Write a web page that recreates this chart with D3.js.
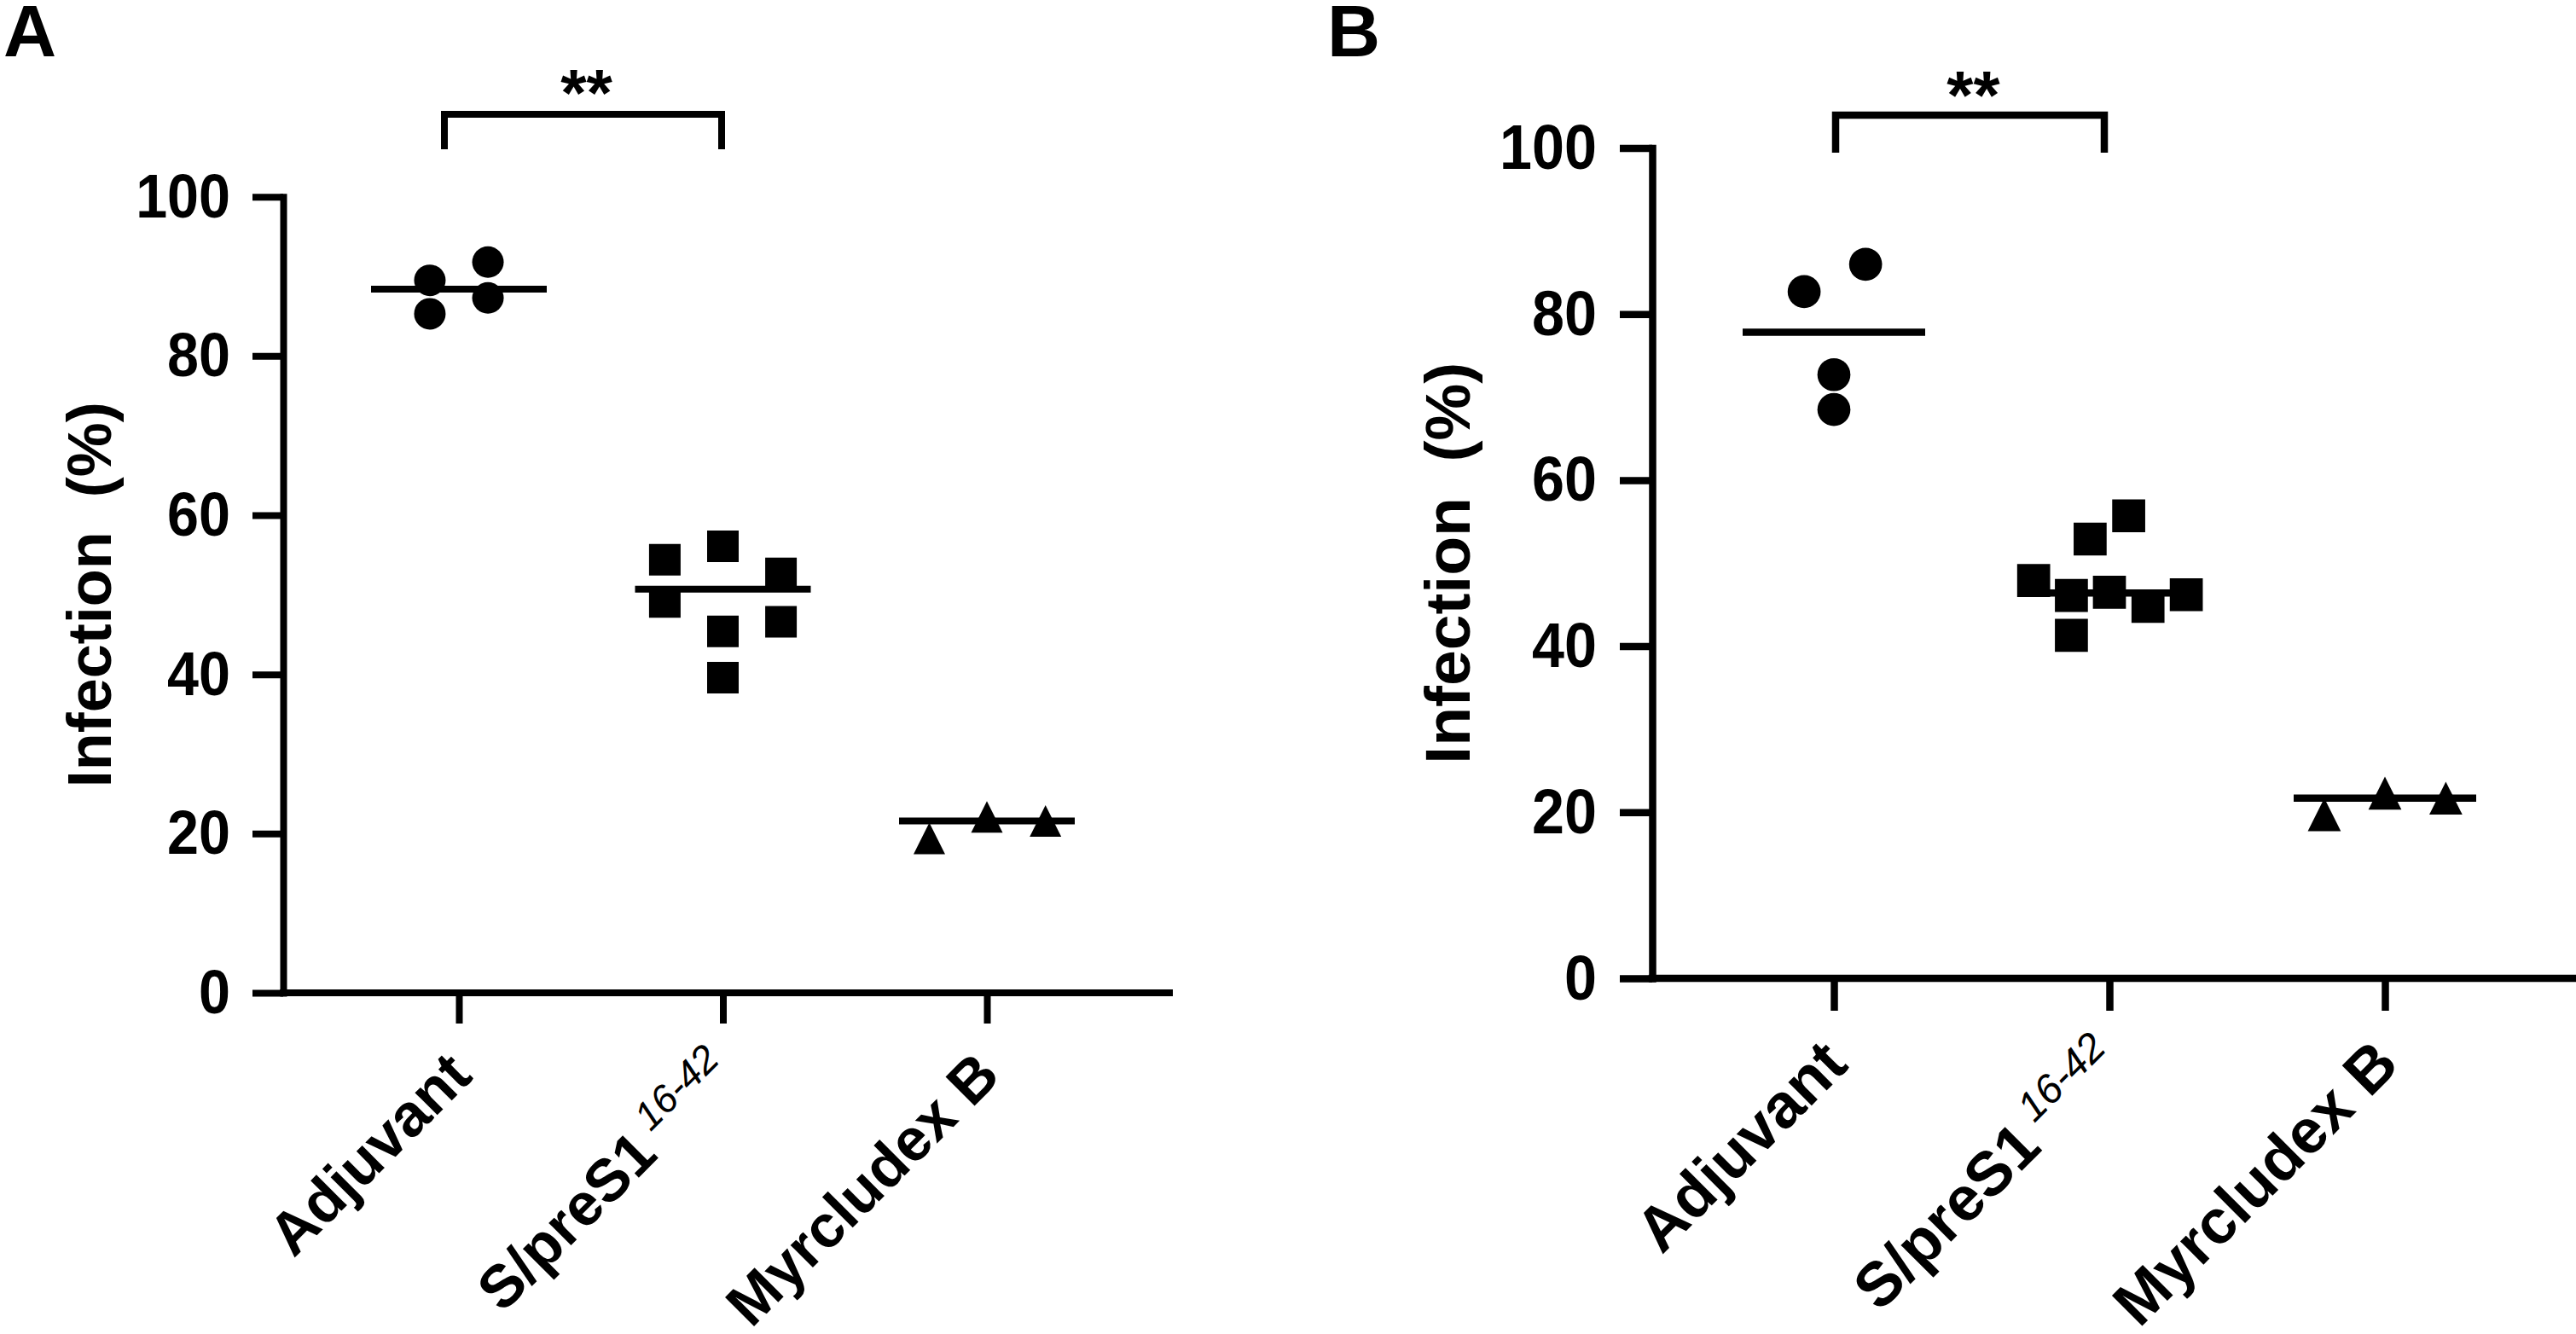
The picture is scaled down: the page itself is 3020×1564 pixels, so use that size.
<!DOCTYPE html>
<html>
<head>
<meta charset="utf-8">
<script src="https://cdn.jsdelivr.net/npm/d3@7"></script>
<style>
  html, body { margin: 0; padding: 0; background: #fff; }
  svg { display: block; }
  text { font-family: "Liberation Sans", Arial, Helvetica, sans-serif; fill: #000; }
</style>
</head>
<body>
<svg id="chart" width="3020" height="1564"></svg>
<script>
// ---------------- data ----------------
const categories = ["Adjuvant", "S/preS1", "Myrcludex B"];
const yTicks = [0, 20, 40, 60, 80, 100];
const significance = "**";

// Panel A
const adjuvantA   = [89.5, 85.3, 91.8, 87.3];
const spreS1A     = [54.4, 49.1, 56.1, 45.4, 39.6, 52.7, 46.6];
const myrcludexA  = [19.4, 22.1, 21.6];
const meansA      = [88.4, 50.7, 21.6];

// Panel B
const adjuvantB   = [82.7, 86.0, 72.7, 68.5];
const spreS1B     = [47.9, 46.1, 41.3, 52.9, 46.5, 55.7, 44.8, 46.2];
const myrcludexB  = [19.7, 22.3, 21.7];
const meansB      = [77.8, 46.4, 21.7];

// horizontal scatter (fraction of category step), as placed in the figure
const jitterA = [
  [-0.11, -0.11, 0.11, 0.11],
  [-0.22, -0.22, 0, 0, 0, 0.22, 0.22],
  [-0.218, 0, 0.222]
];
const jitterB = [
  [-0.108, 0.115, 0, 0],
  [-0.275, -0.138, -0.138, -0.070, 0, 0.070, 0.140, 0.279],
  [-0.22, 0, 0.221]
];

// ---------------- layout ----------------
const svg = d3.select("#chart");
const shapes = ["circle", "square", "triangle"];

function markerPath(shape, s) {
  const r = s / 2;
  if (shape === "circle") return d3.symbol(d3.symbolCircle, Math.PI * r * r)();
  if (shape === "square") return `M${-r},${-r}H${r}V${r}H${-r}Z`;
  return `M0,${-r}L${r},${r}L${-r},${r}Z`;
}

function drawPanel(cfg, groups, means, jitter) {
  const y = d3.scaleLinear().domain([0, 100]).range([cfg.y0, cfg.y100]);
  const x = d3.scalePoint().domain(categories).range([cfg.xFirst, cfg.xLast]);
  const step = x.step();
  const g = svg.append("g");

  // panel letter
  g.append("text").attr("x", cfg.letterX).attr("y", 66)
    .attr("font-size", 86).attr("font-weight", "bold").text(cfg.letter);

  // y axis
  const yAxis = d3.axisLeft(y).tickValues(yTicks).tickSize(cfg.tick)
    .tickSizeOuter(0).tickPadding(cfg.pad);
  const ya = g.append("g").attr("transform", `translate(${cfg.axisX},0)`).call(yAxis);
  ya.select(".domain").attr("stroke", "#000").attr("stroke-width", cfg.sw)
    .attr("stroke-linecap", "square");
  ya.selectAll(".tick line").attr("stroke", "#000").attr("stroke-width", cfg.sw);
  ya.selectAll(".tick text").attr("font-size", cfg.tickFont).attr("font-weight", "bold")
    .attr("font-family", "Liberation Sans, Arial, sans-serif").attr("fill", "#000")
    .each(function () {
      const w = this.getComputedTextLength();
      d3.select(this).attr("textLength", w * cfg.condense).attr("lengthAdjust", "spacingAndGlyphs");
    });

  // x axis
  const xAxis = d3.axisBottom(x).tickSize(cfg.tick).tickFormat("");
  const xa = g.append("g").attr("transform", `translate(0,${cfg.y0})`).call(xAxis);
  xa.select(".domain").remove();
  xa.selectAll(".tick line").attr("stroke", "#000").attr("stroke-width", cfg.sw);
  g.append("line").attr("x1", cfg.axisX).attr("x2", cfg.xEnd)
    .attr("y1", y(0)).attr("y2", y(0))
    .attr("stroke", "#000").attr("stroke-width", cfg.sw).attr("stroke-linecap", "square");

  // x tick labels (rotated)
  categories.forEach((c) => {
    const t = g.append("text")
      .attr("transform", `translate(${x(c) + cfg.labDx},${cfg.labY}) rotate(-45)`)
      .attr("text-anchor", "end").attr("font-weight", "bold")
      .attr("font-size", cfg.labFont)
      .style("white-space", "pre");
    if (c === "S/preS1") {
      t.append("tspan").text("S/preS1");
      t.append("tspan").attr("font-weight", "normal").attr("font-style", "italic")
        .attr("font-size", cfg.supFont).attr("dy", cfg.supDy).text(" 16-42");
    } else {
      t.text(c);
    }
  });

  // y axis title
  g.append("text")
    .attr("transform", `translate(${cfg.titleX},${(y(0) + y(100)) / 2}) rotate(-90)`)
    .attr("text-anchor", "middle").attr("font-weight", "bold")
    .attr("font-size", cfg.titleFont).style("white-space", "pre")
    .text("Infection  (%)");

  // mean lines
  g.selectAll(".mean").data(means).join("line")
    .attr("x1", (d, i) => x(categories[i]) - cfg.meanHalf)
    .attr("x2", (d, i) => x(categories[i]) + cfg.meanHalf)
    .attr("y1", d => y(d)).attr("y2", d => y(d))
    .attr("stroke", "#000").attr("stroke-width", cfg.sw);

  // points
  groups.forEach((vals, gi) => {
    g.selectAll(null).data(vals).join("path")
      .attr("d", markerPath(shapes[gi], cfg.marker))
      .attr("transform", (d, j) => `translate(${x(categories[gi]) + jitter[gi][j] * step},${y(d)})`)
      .attr("fill", "#000");
  });

  // significance bracket
  const bx1 = x(categories[0]) + cfg.brDx[0];
  const bx2 = x(categories[1]) + cfg.brDx[1];
  g.append("path")
    .attr("d", `M${bx1},${cfg.brBottom}V${cfg.brTop}H${bx2}V${cfg.brBottom}`)
    .attr("fill", "none").attr("stroke", "#000").attr("stroke-width", cfg.sw);
  g.append("text").attr("x", (bx1 + bx2) / 2 + 4).attr("y", cfg.starY)
    .attr("text-anchor", "middle").attr("font-weight", "bold")
    .attr("font-size", cfg.starFont).text(significance);
}

drawPanel({
  letter: "A", letterX: 4,
  axisX: 332, y0: 1164, y100: 230.7, xFirst: 538, xLast: 1157, xEnd: 1371,
  sw: 8, tick: 36, pad: 26, tickFont: 73, condense: 0.91,
  labDx: 18, labY: 1264, labFont: 70, supFont: 46, supDy: -28,
  titleX: 130, titleFont: 72,
  meanHalf: 103, marker: 37,
  brDx: [-17, -1.5], brTop: 134, brBottom: 175, starY: 136, starFont: 78
}, [adjuvantA, spreS1A, myrcludexA], meansA, jitterA);

drawPanel({
  letter: "B", letterX: 1556,
  axisX: 1937, y0: 1147, y100: 173.5, xFirst: 2150, xLast: 2796, xEnd: 3016,
  sw: 8.5, tick: 38, pad: 27, tickFont: 75, condense: 0.91,
  labDx: 19, labY: 1251, labFont: 73, supFont: 48, supDy: -29,
  titleX: 1723, titleFont: 75,
  meanHalf: 107, marker: 38.7,
  brDx: [2, -6], brTop: 135, brBottom: 179, starY: 139, starFont: 80
}, [adjuvantB, spreS1B, myrcludexB], meansB, jitterB);
</script>
</body>
</html>
